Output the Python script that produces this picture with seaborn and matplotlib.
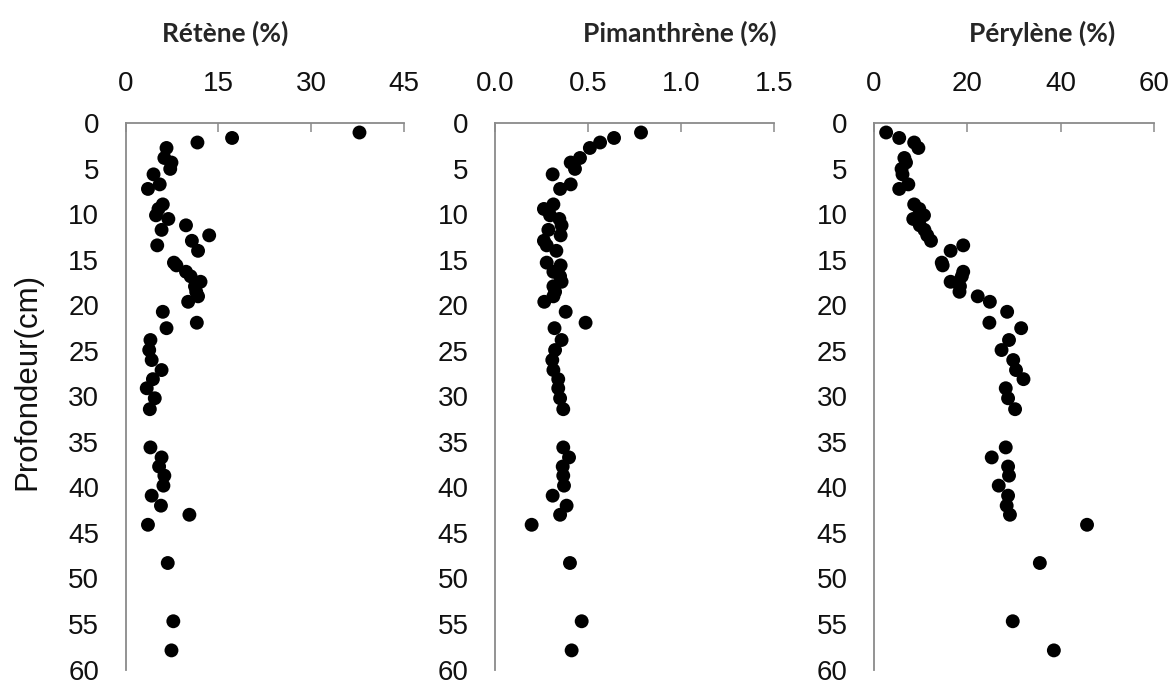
import numpy as np
import pandas as pd
import matplotlib
matplotlib.use("Agg")
import matplotlib.pyplot as plt
import seaborn as sns

# depth of each sample (cm), shared by the three profiles
depth = [1.0, 1.6, 2.1, 2.7, 3.8, 4.3, 5.0, 5.6, 6.7, 7.2,
         8.9, 9.4, 10.1, 10.5, 11.2, 11.7, 12.3, 12.9, 13.4, 14.0,
         15.3, 15.6, 16.3, 16.8, 17.4, 17.9, 18.5, 19.0, 19.6, 20.7,
         21.9, 22.5, 23.8, 24.9, 26.0, 27.1, 28.1, 29.1, 30.2, 31.4,
         35.6, 36.7, 37.7, 38.7, 39.8, 40.9, 42.0, 43.0, 44.1, 48.3,
         54.7, 57.9]

retene = [37.8, 17.2, 11.6, 6.6, 6.25, 7.4, 7.2, 4.5, 5.5, 3.6,
          6.0, 5.3, 4.9, 6.9, 9.75, 5.8, 13.5, 10.7, 5.1, 11.7,
          7.8, 8.2, 9.75, 10.5, 12.1, 11.2, 11.4, 11.7, 10.1, 6.0,
          11.5, 6.6, 4.0, 3.8, 4.2, 5.8, 4.4, 3.4, 4.7, 3.9,
          4.0, 5.8, 5.4, 6.25, 6.1, 4.2, 5.7, 10.3, 3.6, 6.8,
          7.7, 7.4]

pimanthrene = [0.785, 0.64, 0.565, 0.51, 0.457, 0.407, 0.43, 0.31, 0.407, 0.35,
               0.314, 0.263, 0.296, 0.346, 0.358, 0.287, 0.353, 0.263, 0.278, 0.33,
               0.278, 0.353, 0.314, 0.35, 0.358, 0.314, 0.323, 0.314, 0.265, 0.38,
               0.487, 0.32, 0.358, 0.323, 0.308, 0.314, 0.34, 0.34, 0.35, 0.367,
               0.367, 0.398, 0.364, 0.367, 0.371, 0.31, 0.385, 0.35, 0.197, 0.403,
               0.466, 0.412]

perylene = [2.6, 5.4, 8.6, 9.5, 6.5, 6.85, 5.9, 6.1, 7.35, 5.4,
            8.6, 9.7, 10.7, 8.4, 9.8, 10.8, 11.4, 12.2, 19.1, 16.4,
            14.5, 14.7, 19.1, 18.8, 16.4, 18.4, 18.3, 22.2, 24.8, 28.5,
            24.7, 31.5, 28.9, 27.3, 29.8, 30.4, 32.0, 28.2, 28.7, 30.2,
            28.2, 25.2, 28.7, 28.9, 26.7, 28.7, 28.4, 29.1, 45.6, 35.5,
            29.7, 38.5]

titles = ["Rétène (%)", "Pimanthrène (%)", "Pérylène (%)"]
xticks = [[0, 15, 30, 45], [0.0, 0.5, 1.0, 1.5], [0, 20, 40, 60]]
xticklabels = [["0", "15", "30", "45"], ["0.0", "0.5", "1.0", "1.5"], ["0", "20", "40", "60"]]
yticks = [0, 5, 10, 15, 20, 25, 30, 35, 40, 45, 50, 55, 60]

df = pd.DataFrame({"depth": depth, "retene": retene,
                   "pimanthrene": pimanthrene, "perylene": perylene})

sns.set_style("white")
plt.rcParams["font.family"] = ["Liberation Sans", "DejaVu Sans"]

W, H = 1173, 682
fig = plt.figure(figsize=(W / 100, H / 100), dpi=100)

# axes boxes in pixels: left, right
boxes = [(125.7, 404.0), (495.0, 774.0), (874.0, 1154.3)]
top_px, bot_px = 123.4, 669.5
title_x = [225.5, 680.3, 1041.7]
cols = ["retene", "pimanthrene", "perylene"]
grey = "#8a8a8a"

for i, (l, r) in enumerate(boxes):
    ax = fig.add_axes([l / W, (H - bot_px) / H, (r - l) / W, (bot_px - top_px) / H])
    sns.scatterplot(data=df, x=cols[i], y="depth", ax=ax, color="black",
                    s=100, edgecolor="none", linewidth=0, legend=False)
    ax.set_xlim(xticks[i][0], xticks[i][-1])
    ax.set_ylim(60, 0)
    ax.xaxis.tick_top()
    ax.set_xticks(xticks[i])
    ax.set_xticklabels(xticklabels[i])
    ax.set_yticks(yticks)
    ax.set_yticklabels([str(v) for v in yticks])
    ax.tick_params(axis="both", direction="in", length=6.5, width=1.1,
                   color=grey, labelsize=20, labelcolor="#111111", pad=19)
    ax.tick_params(axis="x", pad=19)
    for side in ["right", "bottom"]:
        ax.spines[side].set_visible(False)
    for side in ["left", "top"]:
        ax.spines[side].set_color(grey)
        ax.spines[side].set_linewidth(1.3)
    ax.set_xlabel("")
    ax.set_ylabel("")
    fig.text(title_x[i] / W, 1 - 33 / H, titles[i], ha="center", va="center",
             fontsize=19, fontweight="bold", family=["Lato", "DejaVu Sans"])

fig.text(27 / W, 1 - 381 / H, "Profondeur(cm)", rotation=90, ha="center",
         va="center", fontsize=22.5, color="#111111")

plt.savefig("out.png", dpi=100)
